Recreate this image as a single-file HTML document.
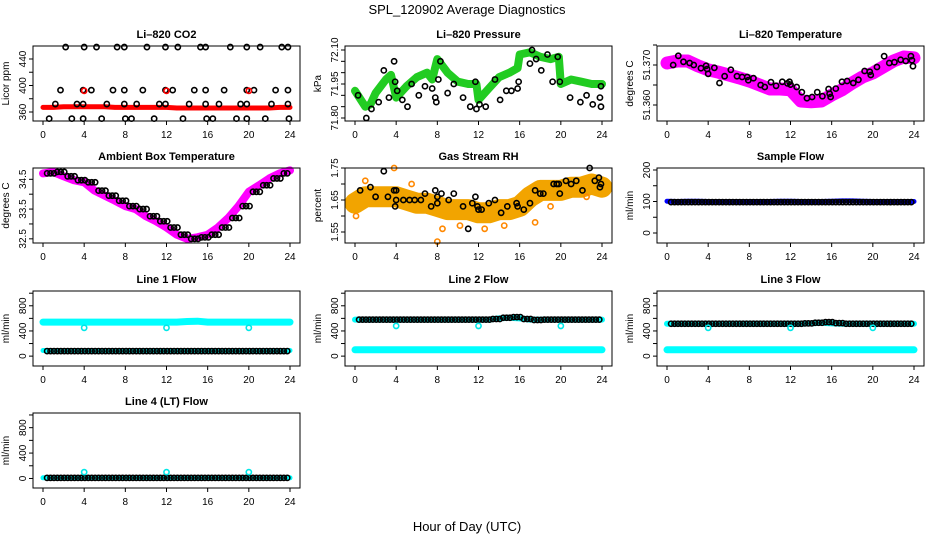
<!DOCTYPE html>
<html><head><meta charset="utf-8">
<style>
html,body{margin:0;padding:0;background:#fff;}
svg{display:block;font-family:"Liberation Sans",Helvetica,Arial,sans-serif;}
</style></head>
<body>
<svg id="chart" width="936" height="540" viewBox="0 0 936 540" xmlns="http://www.w3.org/2000/svg">
<text x="467" y="14" text-anchor="middle" font-size="13">SPL_120902  Average Diagnostics</text>
<text x="467" y="531" text-anchor="middle" font-size="13">Hour of Day (UTC)</text>
</svg>
<script>
// ---------- data ----------
const xTicks = [0,4,8,12,16,20,24];
const hours = [0,1,2,3,4,5,6,7,8,9,10,11,12,13,14,15,16,17,18,19,20,21,22,23,24];

// CO2
const co2Band = [367,367,368,368,368,368,368,367,367,367,367,367,367,366,366,366,366,366,366,366,366,366,366,367,367];
const co2CircT = [2.2,4.0,5.2,7.2,7.9,10.1,11.9,13.1,15.3,15.8,18.2,19.8,21.1,23.2,23.8, 1.7,3.9,4.7,6.8,7.9,9.7,11.9,12.6,14.7,15.8,17.6,19.8,20.5,22.6,23.8, 1.2,3.3,3.9,6.2,7.9,9.1,11.3,11.9,14.2,15.8,17.1,19.2,19.8,22.2,23.8, 0.6,2.8,3.9,5.7,8.0,8.6,10.8,13.6,15.9,16.5,18.8,19.8,21.6,23.9];
const co2CircV = [458,458,458,458,458,458,458,458,458,458,458,458,458,458,458, 393,393,393,393,393,393,393,393,393,393,393,393,393,393,393, 372,372,372,372,372,372,372,372,372,372,372,372,372,372,372, 350,350,350,350,350,350,350,350,350,350,350,350,350,350];
const co2RedT = [4.0,12.0,20.0];
const co2RedV = [392,392,392];

// Pressure
const presBandT = [0,1,1.5,2,3,3.5,4,5,6,7,7.5,8,9,10,11,11.8,12,13,14,15,15.8,16,17,18,19,19.8,20,21,22,23,24];
const presBandV = [71.92,71.85,71.86,71.91,71.97,71.99,71.89,71.94,71.98,72.00,71.97,72.06,72.00,71.96,71.95,71.95,71.88,71.93,71.98,72.00,72.02,72.08,72.09,72.07,72.06,72.07,71.95,71.97,71.96,71.95,71.95];
const presCircT = [0.3,1.1,1.6,2.3,2.8,3.3,3.8,3.9,4.1,4.6,5.1,5.5,6.2,6.8,7.5,7.8,7.9,8.1,8.3,9.0,9.6,10.5,11.2,11.7,11.8,12.1,12.7,13.6,14.1,14.7,15.2,15.8,15.9,17.0,17.2,17.6,18.1,18.7,19.2,19.7,19.9,20.9,21.9,22.5,23.1,23.8,23.9,23.9];
const presCircV = [71.90,71.80,71.84,71.87,72.01,71.89,72.05,71.96,71.92,71.88,71.85,71.95,71.90,71.94,71.93,71.89,71.87,71.97,72.05,71.91,71.95,71.89,71.85,71.96,71.84,71.86,71.85,71.97,71.88,71.92,71.92,71.93,71.96,72.04,72.10,72.06,72.01,72.08,71.96,72.07,71.96,71.89,71.87,71.90,71.86,71.89,71.85,71.94];

// Li-820 temperature
const ltBand = [51.3705,51.3710,51.3710,51.3698,51.3688,51.3682,51.3675,51.3668,51.3660,51.3650,51.3640,51.3640,51.3638,51.3610,51.3608,51.3610,51.3625,51.3638,51.3655,51.3670,51.3680,51.3695,51.3710,51.3720,51.3718];
const ltCircT = [0.6,1.1,1.6,2.2,2.6,3.3,3.8,3.9,4.0,4.6,5.1,5.6,6.2,6.8,7.3,7.8,7.9,8.4,9.1,9.5,10.1,10.6,11.2,11.7,11.9,12.0,12.6,13.1,13.6,14.1,14.6,15.1,15.7,15.8,15.9,16.4,17.0,17.5,18.1,18.6,19.2,19.7,19.8,20.4,21.1,21.6,22.1,22.7,23.2,23.7,23.8,23.9];
const ltCircV = [51.3700,51.3723,51.3708,51.3705,51.3700,51.3692,51.3698,51.3690,51.3678,51.3693,51.3655,51.3672,51.3688,51.3672,51.3670,51.3670,51.3662,51.3667,51.3650,51.3645,51.3657,51.3648,51.3658,51.3654,51.3658,51.3651,51.3645,51.3632,51.3617,51.3620,51.3632,51.3622,51.3640,51.3628,51.3620,51.3641,51.3658,51.3660,51.3655,51.3663,51.3685,51.3683,51.3675,51.3695,51.3722,51.3705,51.3707,51.3713,51.3710,51.3722,51.3712,51.3697];

// Ambient box temperature
const ambV = [34.70,34.75,34.60,34.47,34.40,34.12,33.95,33.78,33.60,33.50,33.26,33.09,32.88,32.64,32.50,32.55,32.64,32.88,33.20,33.60,34.08,34.30,34.53,34.70,34.80];

// Gas stream RH
const rhBand = [1.64,1.66,1.66,1.66,1.66,1.65,1.64,1.64,1.63,1.62,1.62,1.62,1.61,1.61,1.62,1.62,1.63,1.66,1.68,1.68,1.68,1.69,1.69,1.70,1.69];
const rhOutT = [8.0,0.1,3.8,8.5,17.5,1.0,5.5,10.2,14.5,19.0,22.5,12.6];
const rhOutV = [1.52,1.60,1.75,1.56,1.58,1.71,1.70,1.57,1.57,1.63,1.66,1.56];
const rhCircT = [0.5,1.5,2.0,2.8,3.2,3.8,3.9,4.0,4.0,4.7,5.3,5.8,6.4,6.8,7.4,7.8,8.0,8.0,8.4,9.1,9.6,10.5,11.0,11.4,11.7,11.9,12.0,12.3,13.0,13.6,14.2,14.8,15.7,15.8,16.4,17.0,17.5,18.0,18.3,19.3,19.6,19.8,19.9,20.5,21.0,21.5,22.1,22.8,23.3,23.7,23.8,23.9];
const rhCircV = [1.68,1.69,1.66,1.74,1.66,1.68,1.63,1.65,1.68,1.65,1.65,1.65,1.65,1.67,1.63,1.68,1.64,1.66,1.67,1.65,1.67,1.63,1.56,1.64,1.66,1.63,1.62,1.62,1.64,1.65,1.61,1.63,1.64,1.63,1.62,1.64,1.68,1.67,1.67,1.70,1.70,1.70,1.67,1.71,1.70,1.71,1.68,1.75,1.71,1.72,1.69,1.70];

// Sample flow
const sfBand = [101,100,101,101,100,100,100,100,100,100,100,101,101,100,100,100,101,102,102,101,100,100,100,100,100];
const sfCirc = [98,98,98,98,98,98,98,98,98,98,98,98,98,98,98,98,98,98,98,98,98,98,98,98,98];

// Line flows
const l1Cyan = [540,540,540,540,540,540,540,540,540,540,540,540,540,540,550,555,540,540,540,540,540,540,540,540,540];
const l1CyanLow = [90,90,90,90,90,90,90,90,90,90,90,90,90,90,90,90,90,90,90,90,90,90,90,90,90];
const l1Black = [80,80,80,80,80,80,80,80,80,80,80,80,80,80,80,80,80,80,80,80,80,80,80,80,80];
const l1OutT = [4,12,20]; const l1OutV = [450,450,450];

const l2Cyan = [580,580,580,580,580,580,580,580,580,580,580,580,580,580,600,610,600,580,580,580,580,580,580,580,580];
const l2CyanLow = [100,100,100,100,100,100,100,100,100,100,100,100,100,100,100,100,100,100,100,100,100,100,100,100,100];
const l2Black = [580,580,580,580,580,580,580,580,580,580,580,580,580,590,610,620,590,575,580,580,580,580,580,580,580];
const l2OutT = [4,12,20]; const l2OutV = [480,480,480];

const l3Cyan = [515,515,515,515,515,515,515,515,515,515,515,515,515,515,520,530,520,515,515,515,515,515,515,515,515];
const l3CyanLow = [100,100,100,100,100,100,100,100,100,100,100,100,100,100,100,100,100,100,100,100,100,100,100,100,100];
const l3Black = [515,515,515,515,515,515,515,515,515,515,515,515,515,520,530,540,525,515,515,515,515,515,515,515,515];
const l3OutT = [4,12,20]; const l3OutV = [450,450,450];

const l4Cyan = [10,10,10,10,10,10,10,10,10,10,10,10,10,10,10,10,10,10,10,10,10,10,10,10,10];
const l4Black = [10,10,10,10,10,10,10,10,10,10,10,10,10,10,10,10,10,10,10,10,10,10,10,10,10];
const l4OutT = [4,12,20]; const l4OutV = [100,100,100];

// ---------- drawing ----------
const svg = document.getElementById('chart');
const NS = 'http://www.w3.org/2000/svg';
const colLeft = [33,345,657];
const rowTop = [46,168,291,413];
const W = 267, H = 75;

function mk(tag, attrs, parent){
  const e = document.createElementNS(NS, tag);
  for (const k in attrs) e.setAttribute(k, attrs[k]);
  (parent||svg).appendChild(e);
  return e;
}

function makePanel(name, col, row, title, ylab, ymin, ymax, ticks, labels){
  const L = colLeft[col], T = rowTop[row];
  const g = mk('g', {});
  
  
  const x = h => L + 10 + h * (W - 20) / 24;
  const y = v => T + H - (v - ymin) / (ymax - ymin) * H;
  const t = mk('text', {x: L + W/2, y: T - 8, 'text-anchor':'middle', 'font-size':'11', 'font-weight':'bold'}, g);
  t.textContent = title;
  
  
  const yl = mk('text', {x: 0, y: 0, 'text-anchor':'middle', 'font-size':'10', transform:`translate(${L-24},${T+H/2}) rotate(-90)`}, g);
  yl.textContent = ylab;
  
  
  const plot = mk('g', {}, g);
  
  
  const xa = mk('g', {}, g);
  
  
  xTicks.forEach(h => {
    mk('line', {x1:x(h), x2:x(h), y1:T+H, y2:T+H+4, stroke:'#000', 'stroke-width':1}, xa);
    const tl = mk('text', {x:x(h), y:T+H+17, 'text-anchor':'middle', 'font-size':'10'}, xa);
    tl.textContent = h;
  });
  const ya = mk('g', {}, g);
  
  
  ticks.forEach((v,i) => {
    const yy = y(v);
    mk('line', {x1:L-4, x2:L, y1:yy, y2:yy, stroke:'#000', 'stroke-width':1}, ya);
    if (labels[i]) {
      const tl = mk('text', {x:0, y:0, 'text-anchor':'middle', 'font-size':'10', transform:`translate(${L-7},${yy}) rotate(-90)`}, ya);
      tl.textContent = labels[i];
    }
  });
  const box = mk('rect', {x:L, y:T, width:W, height:H, fill:'none', stroke:'#000', 'stroke-width':1}, g);
  
  
  const clipId = 'clip-' + name;
  const cp = mk('clipPath', {id: clipId}, g);
  mk('rect', {x:L, y:T-4, width:W, height:H+8}, cp);
  plot.setAttribute('clip-path', `url(#${clipId})`);
  return {x, y, plot};
}

function band(p, ts, vs, color, width, name){
  const pts = ts.map((t,i) => p.x(t).toFixed(1) + ',' + p.y(vs[i]).toFixed(1)).join(' ');
  const pl = mk('polyline', {points: pts, fill:'none', stroke: color, 'stroke-width': width, 'stroke-linejoin':'round', 'stroke-linecap':'round'}, p.plot);
  
  
}
function circles(p, ts, vs, color, name, r, sw){
  ts.forEach((t,i) => {
    const c = mk('circle', {cx: p.x(t), cy: p.y(vs[i]), r: r||2.6, fill:'none', stroke: color, 'stroke-width': sw||1.6}, p.plot);
    
    
  });
}
// circles repeated 3 per hour at the hourly value (no interpolation)
function hourlyCircles(p, vs, color, name){
  vs.forEach((v,i) => {
    [0, 1/3, 2/3].forEach(o => {
      const t = hours[i] + o + 0.4;
      if (t > 24) return;
      const c = mk('circle', {cx: p.x(t), cy: p.y(v), r: 2.6, fill:'none', stroke: color, 'stroke-width': 1.6}, p.plot);
      
      
    });
  });
}

// Panel 1: CO2
let p = makePanel('co2', 0, 0, 'Li\u2013820 CO2', 'Licor ppm', 346.4, 459.6, [360,380,400,420,440], ['360','','400','','440']);
band(p, hours, co2Band, '#ff0000', 5, 'co2-series');
circles(p, co2CircT, co2CircV, '#000', 'co2-average-point');
circles(p, co2RedT, co2RedV, '#ff0000', 'co2-red-point');

// Panel 2: Pressure
p = makePanel('pressure', 1, 0, 'Li\u2013820 Pressure', 'kPa', 71.7868, 72.1176, [71.80,71.85,71.90,71.95,72.00,72.05,72.10], ['71.80','','','71.95','','','72.10']);
band(p, presBandT, presBandV, '#22cc22', 8, 'pressure-series');
circles(p, presCircT, presCircV, '#000', 'pressure-average-point');

// Panel 3: Li-820 temperature
p = makePanel('li820-temp', 2, 0, 'Li\u2013820 Temperature', 'degrees C', 51.356, 51.37475, [51.360,51.365,51.370,51.375], ['51.360','','51.370','']);
band(p, hours, ltBand, '#ff00ff', 13, 'li820-temp-series');
circles(p, ltCircT, ltCircV, '#000', 'li820-temp-average-point');

// Panel 4: Ambient
p = makePanel('ambient-temp', 0, 1, 'Ambient Box Temperature', 'degrees C', 32.36, 34.88, [32.5,33,33.5,34,34.5], ['32.5','','33.5','','34.5']);
band(p, hours, ambV, '#ff00ff', 8, 'ambient-temp-series');
hourlyCircles(p, ambV.slice(0,24), '#000', 'ambient-temp-average-point');

// Panel 5: RH
p = makePanel('gas-rh', 1, 1, 'Gas Stream RH', 'percent', 1.5156, 1.75, [1.55,1.60,1.65,1.70,1.75], ['1.55','','1.65','','1.75']);
band(p, hours, rhBand, '#f2a400', 21, 'gas-rh-series');
circles(p, rhOutT, rhOutV, '#ff8800', 'gas-rh-outlier');
circles(p, rhCircT, rhCircV, '#000', 'gas-rh-average-point');

// Panel 6: Sample flow
p = makePanel('sample-flow', 2, 1, 'Sample Flow', 'ml/min', -31.7, 206.3, [0,50,100,150,200], ['0','','100','','200']);
band(p, hours, sfBand, '#0000ff', 5, 'sample-flow-series');
hourlyCircles(p, sfCirc.slice(0,24), '#000', 'sample-flow-average-point');

const flowTicks = [0,200,400,600,800,1000];
const flowLabels = ['0','','400','','800',''];
// Panel 7: Line 1
p = makePanel('line1-flow', 0, 2, 'Line 1 Flow', 'ml/min', -157, 1035, flowTicks, flowLabels);
band(p, hours, l1Cyan, '#00ffff', 7, 'line1-flow-series');
band(p, hours, l1CyanLow, '#00ffff', 5, 'line1-flow-low-series');
hourlyCircles(p, l1Black.slice(0,24), '#000', 'line1-flow-average-point');
circles(p, l1OutT, l1OutV, '#00e8e8', 'line1-flow-outlier');

// Panel 8: Line 2
p = makePanel('line2-flow', 1, 2, 'Line 2 Flow', 'ml/min', -157, 1035, flowTicks, flowLabels);
band(p, hours, l2Cyan, '#00ffff', 6, 'line2-flow-series');
band(p, hours, l2CyanLow, '#00ffff', 7, 'line2-flow-low-series');
hourlyCircles(p, l2Black.slice(0,24), '#000', 'line2-flow-average-point');
circles(p, l2OutT, l2OutV, '#00e8e8', 'line2-flow-outlier');

// Panel 9: Line 3
p = makePanel('line3-flow', 2, 2, 'Line 3 Flow', 'ml/min', -157, 1035, flowTicks, flowLabels);
band(p, hours, l3Cyan, '#00ffff', 6, 'line3-flow-series');
band(p, hours, l3CyanLow, '#00ffff', 7, 'line3-flow-low-series');
hourlyCircles(p, l3Black.slice(0,24), '#000', 'line3-flow-average-point');
circles(p, l3OutT, l3OutV, '#00e8e8', 'line3-flow-outlier');

// Panel 10: Line 4
p = makePanel('line4-flow', 0, 3, 'Line 4 (LT) Flow', 'ml/min', -150, 1031, flowTicks, flowLabels);
band(p, hours, l4Cyan, '#00ffff', 5, 'line4-flow-series');
hourlyCircles(p, l4Black.slice(0,24), '#000', 'line4-flow-average-point');
circles(p, l4OutT, l4OutV, '#00e8e8', 'line4-flow-outlier');
</script>
</body></html>
